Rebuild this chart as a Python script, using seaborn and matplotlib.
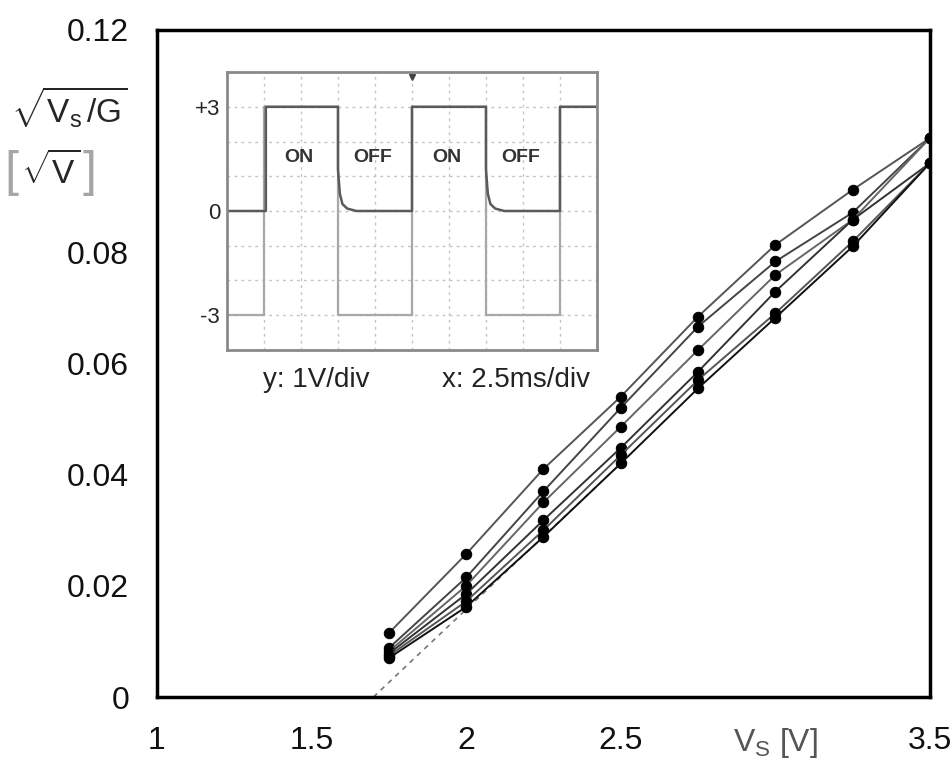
"""
sqrt(Vs/G) vs Vs sweep curves with scope-trace inset
"""
import pandas as pd
import matplotlib.pyplot as plt
import seaborn as sns

# main sweep: supply voltage [V] and sqrt(Vs/G) for each run
vs = [1.75, 2.0, 2.25, 2.5, 2.75, 3.0, 3.25, 3.5]
run_1 = [0.0115, 0.0257, 0.0410, 0.0540, 0.0684, 0.0813, 0.0912, 0.1005]
run_2 = [0.0088, 0.0215, 0.0370, 0.0520, 0.0666, 0.0783, 0.0871, 0.1005]
run_3 = [0.0082, 0.0200, 0.0350, 0.0486, 0.0624, 0.0759, 0.0858, 0.1005]
run_4 = [0.0078, 0.0185, 0.0318, 0.0448, 0.0585, 0.0729, 0.0858, 0.0960]
run_5 = [0.0074, 0.0172, 0.0300, 0.0435, 0.0570, 0.0690, 0.0819, 0.0960]
run_6 = [0.0070, 0.0162, 0.0288, 0.0420, 0.0555, 0.0682, 0.0810, 0.0960]
runs = [run_1, run_2, run_3, run_4, run_5, run_6]
run_colors = ['#555555', '#444444', '#666666', '#333333', '#555555', '#111111']

# extrapolated line to the x axis
fit_x = [1.70, 2.50]
fit_y = [0.0, 0.0420]

x_ticks = [1, 1.5, 2, 2.5, 3, 3.5]
x_labels = ['1', '1.5', '2', '2.5', r'$V_S$ [V]', '3.5']
y_ticks = [0, 0.02, 0.04, 0.06, 0.08, 0.10, 0.12]
y_labels = ['0', '0.02', '0.04', '0.06', '0.08', '', '0.12']

# inset: oscilloscope traces (x in divisions, y in V)
drive_t = [0, 1, 1, 3, 3, 5, 5, 7, 7, 9, 9, 10]
drive_v = [-3, -3, 3, 3, -3, -3, 3, 3, -3, -3, 3, 3]
sensor_t = [0, 1.05, 1.05, 3.0, 3.0, 3.05, 3.12, 3.25, 3.5, 5.0, 5.0,
            7.0, 7.0, 7.05, 7.12, 7.25, 7.5, 9.0, 9.0, 10]
sensor_v = [0, 0, 3, 3, 1.2, 0.5, 0.2, 0.07, 0, 0, 3,
            3, 1.2, 0.5, 0.2, 0.07, 0, 0, 3, 3]
state_t = [1.95, 3.95, 5.95, 7.95]
state_txt = ['ON', 'OFF', 'ON', 'OFF']


def dibujar():
    sns.set_style('white')
    plt.rcParams['font.family'] = ['Liberation Sans', 'DejaVu Sans']
    plt.rcParams['mathtext.fontset'] = 'custom'
    plt.rcParams['mathtext.rm'] = 'Liberation Sans'
    plt.rcParams['mathtext.it'] = 'Liberation Sans'

    fig = plt.figure(figsize=(9.53, 7.63), dpi=100)
    ax = fig.add_axes([0.1647, 0.0865, 0.8112, 0.8748])

    sns.lineplot(x=fit_x, y=fit_y, color='#777777', lw=1.2, ls=(0, (3, 3)), ax=ax)
    for serie, col in zip(runs, run_colors):
        sns.lineplot(x=vs, y=serie, color=col, lw=1.4, marker='o', markersize=7.5,
                     mfc='black', mec='black', ax=ax)

    ax.set_xlim(1, 3.5)
    ax.set_ylim(0, 0.12)
    ax.set_xticks(x_ticks)
    ax.set_xticklabels(x_labels)
    ax.set_yticks(y_ticks)
    ax.set_yticklabels(y_labels)
    ax.set_xlabel('')
    ax.set_ylabel('')
    ax.tick_params(axis='both', direction='out', length=9, width=2.5, labelsize=23,
                   colors='black', labelcolor='#111111')
    ax.get_xticklabels()[4].set_color('#555555')
    ax.tick_params(axis='x', pad=12)
    ax.tick_params(axis='y', pad=11)
    for sp in ax.spines.values():
        sp.set_linewidth(2.5)
        sp.set_color('black')

    # y label in place of the 0.10 tick label
    fig.text(0.073, 0.86, r'$\sqrt{V_s\,/G}$', fontsize=24, ha='center', va='center')
    fig.text(0.0115, 0.773, '[', fontsize=36, ha='center', va='center', color='#a6a6a6')
    fig.text(0.0535, 0.776, r'$\sqrt{V}$', fontsize=24, ha='center', va='center')
    fig.text(0.0935, 0.773, ']', fontsize=36, ha='center', va='center', color='#a6a6a6')

    # INSET
    ins = fig.add_axes([0.2382, 0.5413, 0.3882, 0.3643])
    sns.lineplot(x=drive_t, y=drive_v, sort=False, estimator=None, color='#a8a8a8', lw=1.6, ax=ins)
    sns.lineplot(x=sensor_t, y=sensor_v, sort=False, estimator=None, color='#5a5a5a', lw=1.8, ax=ins)
    ins.set_xlim(0, 10)
    ins.set_ylim(-4, 4)
    ins.set_xticks(range(0, 11))
    ins.set_yticks(range(-4, 5))
    ins.set_xticklabels([])
    ins.set_yticklabels(['', '-3', '', '', '0', '', '', '+3', ''])
    ins.tick_params(length=0, labelsize=16, pad=5)
    ins.grid(True, ls=(0, (2, 3)), color='#c4c4c4', lw=1)
    for sp in ins.spines.values():
        sp.set_color('#8a8a8a')
        sp.set_linewidth(2)
    for t, s in zip(state_t, state_txt):
        ins.text(t, 1.55, s, fontsize=14, fontweight='bold', color='#333333', ha='center', va='center')
    ins.plot([5], [3.85], marker='v', color='#444444', markersize=4)

    fig.text(0.332, 0.502, 'y: 1V/div', fontsize=20, ha='center', va='center', color='#222222')
    fig.text(0.541, 0.502, 'x: 2.5ms/div', fontsize=20, ha='center', va='center', color='#222222')

    fig.savefig('out.png', dpi=100)


if __name__ == "__main__":
    dibujar()
